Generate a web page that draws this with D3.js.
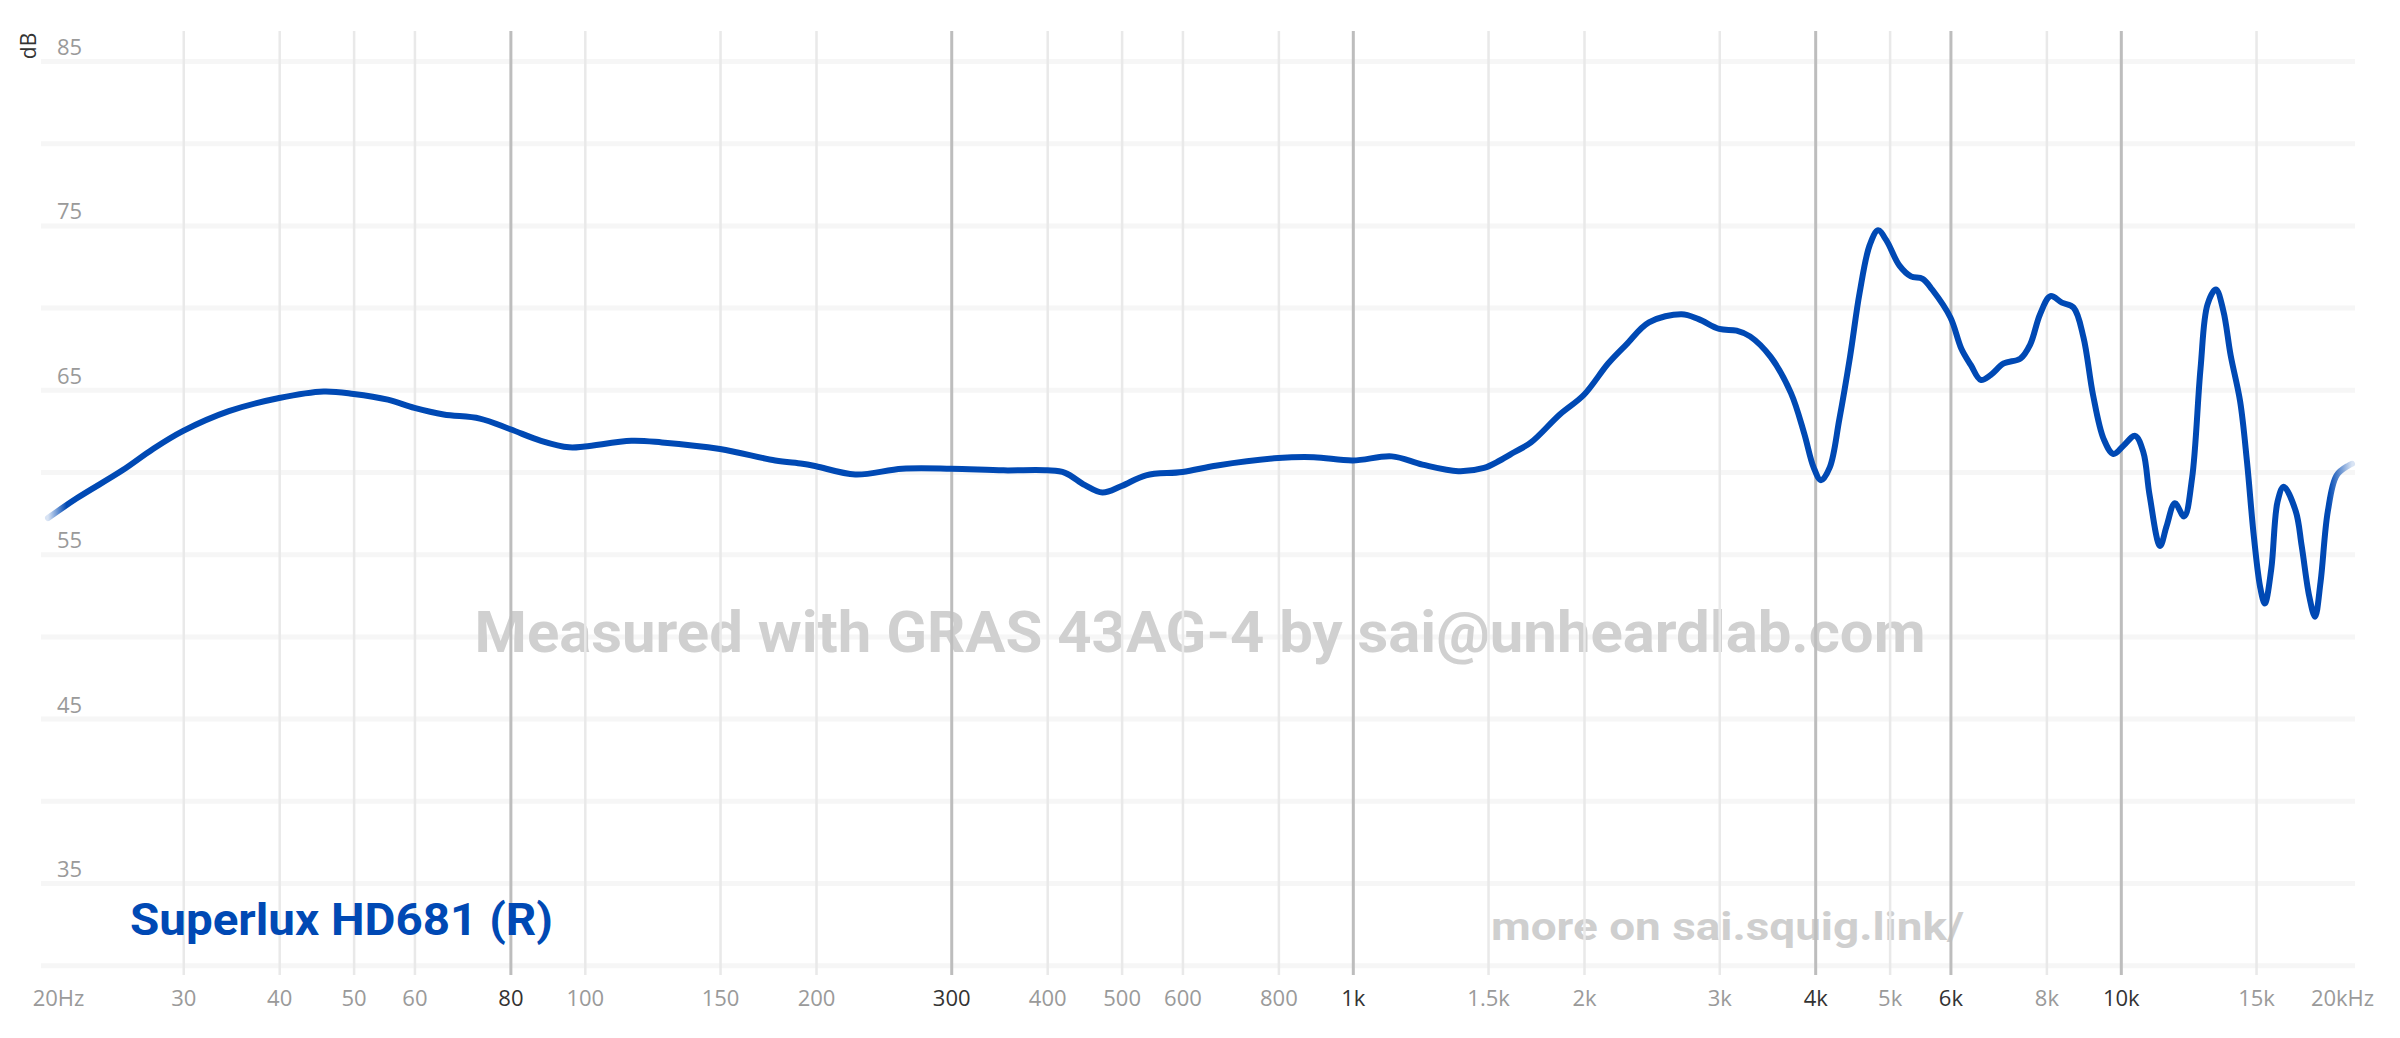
<!DOCTYPE html>
<html>
<head>
<meta charset="utf-8">
<script src="https://cdn.jsdelivr.net/npm/d3@7"></script>
<style>
  html, body { margin: 0; padding: 0; background: #fff; }
  svg { display: block; }
</style>
</head>
<body>
<div id="chart"></div>
<script>
// frequency response (Hz / dB)
var freqs = [20, 21.8, 25, 27.4, 30, 34.4, 40, 45.7, 50, 55.4, 60, 65.5, 73, 80, 87.7, 95.4, 100, 115, 126, 150,
  177, 192, 200, 225, 259, 300, 351, 400, 422, 448, 472, 500, 538, 600, 666, 800, 890, 1000, 1124, 1232,
  1372, 1482, 1554, 1622, 1706, 1860, 2000, 2150, 2270, 2430, 2680, 2820, 3000, 3160, 3290, 3500, 3720, 3870,
  3980, 4070, 4180, 4300, 4440, 4570, 4710, 4830, 4950, 5150, 5330, 5520, 5680, 6000, 6200, 6380, 6570, 6770,
  7040, 7400, 7620, 7850, 8100, 8380, 8680, 8940, 9200, 9500, 9780, 10080, 10440, 10700, 10900, 11250, 11470,
  11760, 12090, 12380, 12700, 12970, 13300, 13600, 13900, 14300, 14600, 14900, 15200, 15400, 15700, 16000,
  16300, 16900, 17200, 17600, 17900, 18200, 18600, 19100, 19800, 20000];
var spl = [57.2, 58.4, 60.1, 61.4, 62.5, 63.7, 64.5, 64.9, 64.75, 64.4, 63.9, 63.5, 63.25, 62.6, 61.9, 61.5, 61.55, 61.9, 61.8, 61.4,
  60.7, 60.5, 60.35, 59.85, 60.2, 60.2, 60.1, 60.1, 59.95, 59.2, 58.75, 59.15, 59.8, 60.0, 60.4, 60.85, 60.9, 60.7, 60.95, 60.45,
  60.05, 60.25, 60.7, 61.2, 61.8, 63.5, 64.7, 66.6, 67.75, 69.1, 69.6, 69.3, 68.7, 68.6, 68.25, 67.0, 64.8, 62.35,
  60.3, 59.5, 60.3, 63.2, 67.0, 70.9, 73.8, 74.7, 74.1, 72.55, 71.9, 71.75, 71.1, 69.4, 67.5, 66.5, 65.6, 65.9,
  66.6, 66.9, 67.75, 69.6, 70.7, 70.3, 70.0, 68.2, 64.7, 62.0, 61.1, 61.6, 62.2, 61.2, 58.6, 55.5, 56.7,
  58.1, 57.3, 59.6, 66.3, 70.2, 71.1, 69.8, 67.1, 64.3, 60.6, 56.1, 52.9, 52.0, 54.1, 58.2,
  59.1, 57.6, 55.5, 52.4, 51.2, 53.3, 57.6, 59.8, 60.4, 60.5];

var xTicks = [20, 30, 40, 50, 60, 80, 100, 150, 200, 300, 400, 500, 600, 800, 1000, 1500, 2000, 3000, 4000, 5000, 6000, 8000, 10000, 15000, 20000];
var xTickLabels = ["20Hz", "30", "40", "50", "60", "80", "100", "150", "200", "300", "400", "500", "600", "800", "1k", "1.5k", "2k", "3k", "4k", "5k", "6k", "8k", "10k", "15k", "20kHz"];
var darkTicks = [80, 300, 1000, 4000, 6000, 10000];
var dbGrid = [30, 35, 40, 45, 50, 55, 60, 65, 70, 75, 80, 85];
var dbLabels = [85, 75, 65, 55, 45, 35];

var width = 2400, height = 1038;
var plotTop = 31, plotBottom = 975;
var blue = "#0049b4";

var x = d3.scaleLog().domain([20, 20000]).range([48, 2352]);
var y = d3.scaleLinear().domain([35, 85]).range([883, 61]);

var svg = d3.select("#chart")
  .append("svg")
  .attr("width", width)
  .attr("height", height);

svg.append("rect")
  .attr("width", width)
  .attr("height", height)
  .attr("fill", "#fff");

// horizontal grid bands
var yGrid = svg.append("g")
  .attr("transform", "translate(41,0)")
  .call(d3.axisLeft(y).tickValues(dbGrid).tickSize(-(2355 - 41)).tickFormat(""));
yGrid.select(".domain").remove();
yGrid.selectAll("line")
  .attr("stroke", "#f6f6f6")
  .attr("stroke-width", 5);

// watermark sits under the vertical lines
svg.append("text")
  .attr("x", 1200)
  .attr("y", 652)
  .attr("text-anchor", "middle")
  .attr("font-family", "Roboto, sans-serif")
  .attr("font-weight", 700)
  .attr("font-size", 58)
  .attr("textLength", 1451)
  .attr("lengthAdjust", "spacingAndGlyphs")
  .attr("fill", "#d0d0d0")
  .text("Measured with GRAS 43AG-4 by sai@unheardlab.com");

svg.append("text")
  .attr("x", 1491)
  .attr("y", 940)
  .attr("font-family", "Roboto, sans-serif")
  .attr("font-weight", 700)
  .attr("font-size", 38)
  .attr("textLength", 473)
  .attr("lengthAdjust", "spacingAndGlyphs")
  .attr("fill", "#cfcfcf")
  .text("more on sai.squig.link/");

// vertical grid + frequency labels
var xAxis = svg.append("g")
  .attr("transform", "translate(0," + plotBottom + ")")
  .call(d3.axisBottom(x)
    .tickValues(xTicks)
    .tickSize(-(plotBottom - plotTop))
    .tickPadding(15)
    .tickFormat(function(d, i) { return xTickLabels[i]; }));
xAxis.select(".domain").remove();
xAxis.selectAll(".tick line")
  .attr("stroke", function(d) { return darkTicks.indexOf(d) >= 0 ? "#bdbdbd" : "#e9e9e9"; })
  .attr("stroke-width", function(d) { return darkTicks.indexOf(d) >= 0 ? 3 : 2.5; })
  .attr("opacity", function(d) { return (d == 20 || d == 20000) ? 0 : 1; });
xAxis.selectAll(".tick text")
  .attr("font-family", "'Open Sans', sans-serif")
  .attr("font-size", 22)
  .attr("fill", function(d) { return darkTicks.indexOf(d) >= 0 ? "#333" : "#9a9a9a"; })
  .attr("dx", function(d) { return d == 20 ? 10 : (d == 20000 ? -10 : 0); });

// dB labels
svg.append("g")
  .selectAll("text")
  .data(dbLabels)
  .enter()
  .append("text")
  .attr("x", 57)
  .attr("y", function(d) { return y(d) - 6; })
  .attr("font-family", "'Open Sans', sans-serif")
  .attr("font-size", 22)
  .attr("fill", "#9a9a9a")
  .text(function(d) { return d; });

svg.append("text")
  .attr("transform", "translate(36,46) rotate(-90)")
  .attr("text-anchor", "middle")
  .attr("font-family", "'Open Sans', sans-serif")
  .attr("font-size", 21)
  .attr("fill", "#333")
  .text("dB");

// curve, faded at both ends
var grad = svg.append("defs")
  .append("linearGradient")
  .attr("id", "fade")
  .attr("gradientUnits", "userSpaceOnUse")
  .attr("x1", x(20)).attr("x2", x(20000))
  .attr("y1", 0).attr("y2", 0);
grad.append("stop").attr("offset", 0).attr("stop-color", blue).attr("stop-opacity", 0.15);
grad.append("stop").attr("offset", 0.008).attr("stop-color", blue).attr("stop-opacity", 1);
grad.append("stop").attr("offset", 0.99).attr("stop-color", blue).attr("stop-opacity", 1);
grad.append("stop").attr("offset", 1).attr("stop-color", blue).attr("stop-opacity", 0.15);

var line = d3.line()
  .x(function(d, i) { return x(freqs[i]); })
  .y(function(d) { return y(d); })
  .curve(d3.curveCatmullRom.alpha(0.5));

svg.append("path")
  .datum(spl)
  .attr("d", line)
  .attr("fill", "none")
  .attr("stroke", "url(#fade)")
  .attr("stroke-width", 6)
  .attr("stroke-linejoin", "round")
  .attr("stroke-linecap", "round");

// legend label
svg.append("text")
  .attr("x", 130)
  .attr("y", 935)
  .attr("font-family", "Roboto, sans-serif")
  .attr("font-weight", 700)
  .attr("font-size", 44)
  .attr("textLength", 423)
  .attr("lengthAdjust", "spacingAndGlyphs")
  .attr("fill", blue)
  .text("Superlux HD681 (R)");
</script>
</body>
</html>
